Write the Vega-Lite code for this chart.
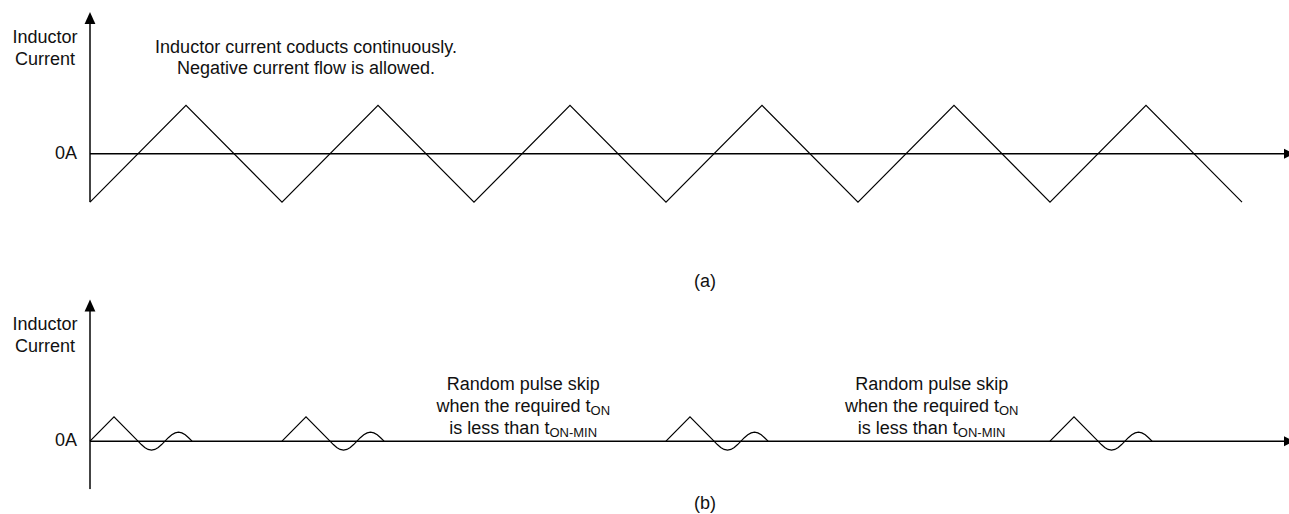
{
  "$schema": "https://vega.github.io/schema/vega-lite/v6.json",
  "width": 1289,
  "height": 514,
  "autosize": {"type": "fit", "contains": "padding"},
  "padding": 0,
  "background": "white",
  "config": {
    "view": {"stroke": null},
    "text": {"font": "Liberation Sans", "fontSize": 18, "color": "#111"}
  },
  "data": {"values": [{"anchor": 1}]},
  "datasets": {
    "waveA": [
      {"t": 0, "i": -1}, {"t": 1, "i": 1}, {"t": 2, "i": -1}, {"t": 3, "i": 1},
      {"t": 4, "i": -1}, {"t": 5, "i": 1}, {"t": 6, "i": -1}, {"t": 7, "i": 1},
      {"t": 8, "i": -1}, {"t": 9, "i": 1}, {"t": 10, "i": -1}, {"t": 11, "i": 1},
      {"t": 12, "i": -1}
    ],
    "waveB": [
      {"pulse": 1, "t": 0, "i": 0}, {"pulse": 1, "t": 0.25, "i": 0.5}, {"pulse": 1, "t": 0.5, "i": 0},
      {"pulse": 1, "t": 0.535, "i": -0.071}, {"pulse": 1, "t": 0.57, "i": -0.131}, {"pulse": 1, "t": 0.605, "i": -0.171},
      {"pulse": 1, "t": 0.641, "i": -0.186}, {"pulse": 1, "t": 0.676, "i": -0.171}, {"pulse": 1, "t": 0.711, "i": -0.131},
      {"pulse": 1, "t": 0.746, "i": -0.071}, {"pulse": 1, "t": 0.781, "i": 0}, {"pulse": 1, "t": 0.816, "i": 0.071},
      {"pulse": 1, "t": 0.852, "i": 0.131}, {"pulse": 1, "t": 0.887, "i": 0.171}, {"pulse": 1, "t": 0.922, "i": 0.186},
      {"pulse": 1, "t": 0.957, "i": 0.171}, {"pulse": 1, "t": 0.992, "i": 0.131}, {"pulse": 1, "t": 1.027, "i": 0.071},
      {"pulse": 1, "t": 1.063, "i": 0},

      {"pulse": 2, "t": 2, "i": 0}, {"pulse": 2, "t": 2.25, "i": 0.5}, {"pulse": 2, "t": 2.5, "i": 0},
      {"pulse": 2, "t": 2.535, "i": -0.071}, {"pulse": 2, "t": 2.57, "i": -0.131}, {"pulse": 2, "t": 2.605, "i": -0.171},
      {"pulse": 2, "t": 2.641, "i": -0.186}, {"pulse": 2, "t": 2.676, "i": -0.171}, {"pulse": 2, "t": 2.711, "i": -0.131},
      {"pulse": 2, "t": 2.746, "i": -0.071}, {"pulse": 2, "t": 2.781, "i": 0}, {"pulse": 2, "t": 2.816, "i": 0.071},
      {"pulse": 2, "t": 2.852, "i": 0.131}, {"pulse": 2, "t": 2.887, "i": 0.171}, {"pulse": 2, "t": 2.922, "i": 0.186},
      {"pulse": 2, "t": 2.957, "i": 0.171}, {"pulse": 2, "t": 2.992, "i": 0.131}, {"pulse": 2, "t": 3.027, "i": 0.071},
      {"pulse": 2, "t": 3.063, "i": 0},

      {"pulse": 3, "t": 6, "i": 0}, {"pulse": 3, "t": 6.25, "i": 0.5}, {"pulse": 3, "t": 6.5, "i": 0},
      {"pulse": 3, "t": 6.535, "i": -0.071}, {"pulse": 3, "t": 6.57, "i": -0.131}, {"pulse": 3, "t": 6.605, "i": -0.171},
      {"pulse": 3, "t": 6.641, "i": -0.186}, {"pulse": 3, "t": 6.676, "i": -0.171}, {"pulse": 3, "t": 6.711, "i": -0.131},
      {"pulse": 3, "t": 6.746, "i": -0.071}, {"pulse": 3, "t": 6.781, "i": 0}, {"pulse": 3, "t": 6.816, "i": 0.071},
      {"pulse": 3, "t": 6.852, "i": 0.131}, {"pulse": 3, "t": 6.887, "i": 0.171}, {"pulse": 3, "t": 6.922, "i": 0.186},
      {"pulse": 3, "t": 6.957, "i": 0.171}, {"pulse": 3, "t": 6.992, "i": 0.131}, {"pulse": 3, "t": 7.027, "i": 0.071},
      {"pulse": 3, "t": 7.063, "i": 0},

      {"pulse": 4, "t": 10, "i": 0}, {"pulse": 4, "t": 10.25, "i": 0.5}, {"pulse": 4, "t": 10.5, "i": 0},
      {"pulse": 4, "t": 10.535, "i": -0.071}, {"pulse": 4, "t": 10.57, "i": -0.131}, {"pulse": 4, "t": 10.605, "i": -0.171},
      {"pulse": 4, "t": 10.641, "i": -0.186}, {"pulse": 4, "t": 10.676, "i": -0.171}, {"pulse": 4, "t": 10.711, "i": -0.131},
      {"pulse": 4, "t": 10.746, "i": -0.071}, {"pulse": 4, "t": 10.781, "i": 0}, {"pulse": 4, "t": 10.816, "i": 0.071},
      {"pulse": 4, "t": 10.852, "i": 0.131}, {"pulse": 4, "t": 10.887, "i": 0.171}, {"pulse": 4, "t": 10.922, "i": 0.186},
      {"pulse": 4, "t": 10.957, "i": 0.171}, {"pulse": 4, "t": 10.992, "i": 0.131}, {"pulse": 4, "t": 11.027, "i": 0.071},
      {"pulse": 4, "t": 11.063, "i": 0}
    ],
    "labelsA": [
      {"t": -0.469, "i": 2.289, "label": "Inductor"},
      {"t": -0.469, "i": 1.835, "label": "Current"},
      {"t": 2.25, "i": 2.089, "label": "Inductor current coducts continuously."},
      {"t": 2.25, "i": 1.64, "label": "Negative current flow is allowed."}
    ],
    "labelsB": [
      {"t": -0.469, "i": 2.289, "label": "Inductor"},
      {"t": -0.469, "i": 1.835, "label": "Current"},
      {"t": 4.5135, "i": 1.058, "label": "Random pulse skip"},
      {"t": 8.7677, "i": 1.058, "label": "Random pulse skip"}
    ],
    "mainB": [
      {"t": 5.2146, "i": 0.604, "label": "when the required t"},
      {"t": 4.7854, "i": 0.138, "label": "is less than t"},
      {"t": 9.4688, "i": 0.604, "label": "when the required t"},
      {"t": 9.0396, "i": 0.138, "label": "is less than t"}
    ],
    "subB": [
      {"t": 5.2146, "i": 0.604, "label": "ON"},
      {"t": 4.7854, "i": 0.138, "label": "ON-MIN"},
      {"t": 9.4688, "i": 0.604, "label": "ON"},
      {"t": 9.0396, "i": 0.138, "label": "ON-MIN"}
    ],
    "captions": [
      {"t": 6.406, "i": 3.278, "label": "(a)"},
      {"t": 6.406, "i": -1.299, "label": "(b)"}
    ],
    "zeroLabel": [
      {"t": -0.135, "i": 0, "label": "0A"}
    ]
  },
  "resolve": {"scale": {"y": "independent"}},
  "layer": [
    {
      "layer": [
        {
          "mark": {"type": "rule", "color": "#444", "strokeWidth": 2},
          "encoding": {
            "x": {"datum": 0, "type": "quantitative", "scale": {"domain": [-0.9375, 12.4896], "nice": false, "zero": false}, "axis": null},
            "y": {"datum": -1.0, "type": "quantitative", "scale": {"domain": [-7.4227, 3.1753], "nice": false, "zero": false}, "axis": null},
            "y2": {"datum": 2.72}
          }
        },
        {
          "mark": {"type": "point", "shape": "M0,-1L0.9,1L-0.9,1Z", "filled": true, "color": "#000", "size": 144, "opacity": 1},
          "encoding": {
            "x": {"datum": 0, "type": "quantitative", "scale": {"domain": [-0.9375, 12.4896], "nice": false, "zero": false}, "axis": null},
            "y": {"datum": 2.804, "type": "quantitative", "scale": {"domain": [-7.4227, 3.1753], "nice": false, "zero": false}, "axis": null}
          }
        },
        {
          "mark": {"type": "rule", "color": "#000", "strokeWidth": 1.5},
          "encoding": {
            "x": {"datum": 0, "type": "quantitative", "scale": {"domain": [-0.9375, 12.4896], "nice": false, "zero": false}, "axis": null},
            "x2": {"datum": 12.44},
            "y": {"datum": 0, "type": "quantitative", "scale": {"domain": [-7.4227, 3.1753], "nice": false, "zero": false}, "axis": null}
          }
        },
        {
          "mark": {"type": "point", "shape": "M-0.5,-1L0.5,-0.5L0.5,0.5L-0.5,1Z", "filled": true, "color": "#000", "size": 100, "opacity": 1},
          "encoding": {
            "x": {"datum": 12.4635, "type": "quantitative", "scale": {"domain": [-0.9375, 12.4896], "nice": false, "zero": false}, "axis": null},
            "y": {"datum": 0, "type": "quantitative", "scale": {"domain": [-7.4227, 3.1753], "nice": false, "zero": false}, "axis": null}
          }
        },
        {
          "data": {"name": "waveA"},
          "mark": {"type": "line", "color": "#000", "strokeWidth": 1.2},
          "encoding": {
            "x": {"field": "t", "type": "quantitative", "scale": {"domain": [-0.9375, 12.4896], "nice": false, "zero": false}, "axis": null},
            "y": {"field": "i", "type": "quantitative", "scale": {"domain": [-7.4227, 3.1753], "nice": false, "zero": false}, "axis": null}
          }
        },
        {
          "data": {"name": "labelsA"},
          "mark": {"type": "text", "align": "center", "baseline": "alphabetic"},
          "encoding": {
            "x": {"field": "t", "type": "quantitative", "scale": {"domain": [-0.9375, 12.4896], "nice": false, "zero": false}, "axis": null},
            "y": {"field": "i", "type": "quantitative", "scale": {"domain": [-7.4227, 3.1753], "nice": false, "zero": false}, "axis": null},
            "text": {"field": "label"}
          }
        },
        {
          "data": {"name": "zeroLabel"},
          "mark": {"type": "text", "align": "right", "baseline": "middle"},
          "encoding": {
            "x": {"field": "t", "type": "quantitative", "scale": {"domain": [-0.9375, 12.4896], "nice": false, "zero": false}, "axis": null},
            "y": {"field": "i", "type": "quantitative", "scale": {"domain": [-7.4227, 3.1753], "nice": false, "zero": false}, "axis": null},
            "text": {"field": "label"}
          }
        }
      ]
    },
    {
      "layer": [
        {
          "mark": {"type": "rule", "color": "#444", "strokeWidth": 2},
          "encoding": {
            "x": {"datum": 0, "type": "quantitative", "scale": {"domain": [-0.9375, 12.4896], "nice": false, "zero": false}, "axis": null},
            "y": {"datum": -0.99, "type": "quantitative", "scale": {"domain": [-1.4845, 9.1134], "nice": false, "zero": false}, "axis": null},
            "y2": {"datum": 2.72}
          }
        },
        {
          "mark": {"type": "point", "shape": "M0,-1L0.9,1L-0.9,1Z", "filled": true, "color": "#000", "size": 144, "opacity": 1},
          "encoding": {
            "x": {"datum": 0, "type": "quantitative", "scale": {"domain": [-0.9375, 12.4896], "nice": false, "zero": false}, "axis": null},
            "y": {"datum": 2.804, "type": "quantitative", "scale": {"domain": [-1.4845, 9.1134], "nice": false, "zero": false}, "axis": null}
          }
        },
        {
          "mark": {"type": "rule", "color": "#000", "strokeWidth": 1.5},
          "encoding": {
            "x": {"datum": 0, "type": "quantitative", "scale": {"domain": [-0.9375, 12.4896], "nice": false, "zero": false}, "axis": null},
            "x2": {"datum": 12.44},
            "y": {"datum": 0, "type": "quantitative", "scale": {"domain": [-1.4845, 9.1134], "nice": false, "zero": false}, "axis": null}
          }
        },
        {
          "mark": {"type": "point", "shape": "M-0.5,-1L0.5,-0.5L0.5,0.5L-0.5,1Z", "filled": true, "color": "#000", "size": 100, "opacity": 1},
          "encoding": {
            "x": {"datum": 12.4635, "type": "quantitative", "scale": {"domain": [-0.9375, 12.4896], "nice": false, "zero": false}, "axis": null},
            "y": {"datum": 0, "type": "quantitative", "scale": {"domain": [-1.4845, 9.1134], "nice": false, "zero": false}, "axis": null}
          }
        },
        {
          "data": {"name": "waveB"},
          "mark": {"type": "line", "color": "#000", "strokeWidth": 1.2},
          "encoding": {
            "x": {"field": "t", "type": "quantitative", "scale": {"domain": [-0.9375, 12.4896], "nice": false, "zero": false}, "axis": null},
            "y": {"field": "i", "type": "quantitative", "scale": {"domain": [-1.4845, 9.1134], "nice": false, "zero": false}, "axis": null},
            "detail": {"field": "pulse", "type": "nominal"}
          }
        },
        {
          "data": {"name": "labelsB"},
          "mark": {"type": "text", "align": "center", "baseline": "alphabetic"},
          "encoding": {
            "x": {"field": "t", "type": "quantitative", "scale": {"domain": [-0.9375, 12.4896], "nice": false, "zero": false}, "axis": null},
            "y": {"field": "i", "type": "quantitative", "scale": {"domain": [-1.4845, 9.1134], "nice": false, "zero": false}, "axis": null},
            "text": {"field": "label"}
          }
        },
        {
          "data": {"name": "mainB"},
          "mark": {"type": "text", "align": "right", "baseline": "alphabetic"},
          "encoding": {
            "x": {"field": "t", "type": "quantitative", "scale": {"domain": [-0.9375, 12.4896], "nice": false, "zero": false}, "axis": null},
            "y": {"field": "i", "type": "quantitative", "scale": {"domain": [-1.4845, 9.1134], "nice": false, "zero": false}, "axis": null},
            "text": {"field": "label"}
          }
        },
        {
          "data": {"name": "subB"},
          "mark": {"type": "text", "align": "left", "baseline": "alphabetic", "fontSize": 13, "dy": 3},
          "encoding": {
            "x": {"field": "t", "type": "quantitative", "scale": {"domain": [-0.9375, 12.4896], "nice": false, "zero": false}, "axis": null},
            "y": {"field": "i", "type": "quantitative", "scale": {"domain": [-1.4845, 9.1134], "nice": false, "zero": false}, "axis": null},
            "text": {"field": "label"}
          }
        },
        {
          "data": {"name": "zeroLabel"},
          "mark": {"type": "text", "align": "right", "baseline": "middle"},
          "encoding": {
            "x": {"field": "t", "type": "quantitative", "scale": {"domain": [-0.9375, 12.4896], "nice": false, "zero": false}, "axis": null},
            "y": {"field": "i", "type": "quantitative", "scale": {"domain": [-1.4845, 9.1134], "nice": false, "zero": false}, "axis": null},
            "text": {"field": "label"}
          }
        },
        {
          "data": {"name": "captions"},
          "mark": {"type": "text", "align": "center", "baseline": "middle"},
          "encoding": {
            "x": {"field": "t", "type": "quantitative", "scale": {"domain": [-0.9375, 12.4896], "nice": false, "zero": false}, "axis": null},
            "y": {"field": "i", "type": "quantitative", "scale": {"domain": [-1.4845, 9.1134], "nice": false, "zero": false}, "axis": null},
            "text": {"field": "label"}
          }
        }
      ]
    }
  ]
}
